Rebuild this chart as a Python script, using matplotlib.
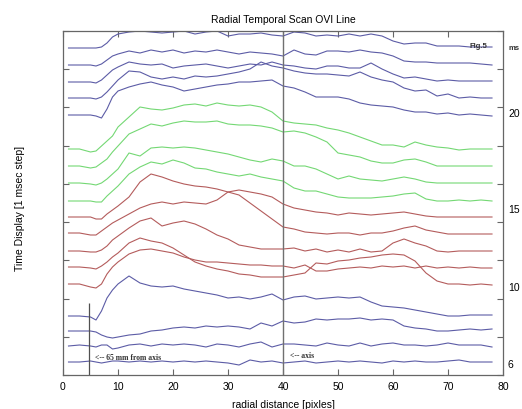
import matplotlib
matplotlib.use("Agg")
import matplotlib.pyplot as plt

plt.rcParams['font.family'] = ['Liberation Sans', 'DejaVu Sans']

# radial positions (pixels) where the traces were sampled
radial = [1, 3, 5, 6, 7, 8, 9, 10,
          12, 14, 16, 18, 20, 22, 24, 26, 28, 30, 32, 34, 36, 38,
          40, 42, 44, 46, 48, 50, 52, 54, 56, 58, 60, 62, 64, 66, 68, 70, 72, 74, 76, 78]

# === TRACES (signal above own baseline) ===
# late frames, blue, top group
blue_late = [
    [0, 0, 0, 0, 1, 5, 11, 14,
     16, 17, 16, 15, 16, 17, 14, 16, 17, 12, 14, 14, 15, 13,
     12, 16, 15, 12, 13, 12, 14, 12, 14, 12, 7, 4, 5, 5, 2, 2, 2, 1, 1, 1],
    [0, 0, 0, -1, 1, 5, 9, 11,
     14, 12, 15, 13, 15, 12, 14, 13, 15, 13, 11, 13, 12, 11,
     9, 15, 11, 10, 14, 14, 13, 15, 13, 12, 9, 4, 3, 3, 2, 2, 2, 2, 1, 0],
    [0, 0, 0, -1, 2, 7, 12, 15,
     20, 18, 17, 18, 14, 16, 17, 18, 16, 14, 16, 18, 17, 20,
     17, 16, 14, 13, 16, 16, 14, 14, 19, 13, 8, 4, 5, 3, 1, 2, 1, 1, 1, 1],
    [0, 0, 0, -1, 1, 6, 12, 18,
     27, 26, 21, 19, 21, 19, 22, 21, 22, 24, 26, 29, 36, 32,
     30, 27, 25, 24, 24, 23, 22, 26, 21, 18, 16, 10, 7, 8, 2, 4, 0, 1, 0, 0],
    [0, 0, 0, -1, -3, 6, 18, 24,
     28, 31, 33, 30, 28, 24, 26, 28, 30, 31, 33, 33, 34, 35,
     29, 27, 23, 18, 18, 18, 16, 12, 10, 9, 8, 5, 3, 3, 1, 2, 0, 1, 0, -1],
]
green = [
    [0, 0, -3, -2, 3, 8, 13, 22,
     32, 42, 40, 39, 41, 44, 45, 43, 46, 44, 43, 44, 42, 37,
     28, 26, 25, 24, 21, 19, 16, 12, 8, 4, 4, 2, 7, 4, 2, 1, -1, 0, 0, 0],
    [0, 0, -2, -1, 3, 7, 14, 20,
     32, 37, 42, 40, 43, 45, 44, 44, 45, 42, 41, 41, 40, 38,
     34, 35, 33, 29, 24, 13, 11, 9, 5, 3, 3, 6, 7, 4, 0, 0, 0, 0, 0, 0],
    [0, 0, -1, -2, 0, 4, 9, 14,
     30, 27, 35, 36, 35, 36, 35, 33, 31, 29, 26, 23, 21, 24,
     22, 17, 17, 14, 9, 4, 7, 4, 3, 2, 4, 6, 4, 1, 0, 0, 0, 0, 0, 0],
    [0, 0, 0, -1, -1, 5, 10, 15,
     27, 34, 39, 37, 41, 38, 33, 32, 29, 27, 25, 27, 24, 22,
     20, 13, 10, 10, 7, 4, 3, 3, 3, 4, 5, 7, 8, 2, 0, 0, 1, 0, 1, 0],
]
red = [
    [0, 0, 0, -2, -2, 3, 7, 11,
     20, 35, 43, 40, 36, 33, 31, 30, 28, 25, 27, 25, 23, 20,
     13, 9, 7, 5, 4, 2, 4, 3, 2, 3, 4, 5, 3, 1, 0, 0, 0, 0, 0, 0],
    [0, 0, -2, -2, 2, 6, 10, 13,
     19, 25, 29, 31, 29, 31, 30, 29, 33, 41, 38, 30, 22, 14,
     6, 4, 1, 0, -1, 0, 0, -2, 0, 0, 2, 5, 7, 3, 1, -1, -1, -1, -1, -1],
    [0, 0, -1, -1, 1, 5, 11, 15,
     23, 30, 33, 25, 28, 30, 27, 22, 16, 12, 6, 4, 2, 2,
     2, 3, 0, 2, -1, 1, -1, 2, -1, 0, 8, 12, 8, 5, 0, -1, 0, 0, 0, 0],
    [0, 0, -1, -2, 1, 5, 10, 14,
     24, 29, 26, 24, 19, 12, 5, 1, -2, -4, -7, -8, -10, -10,
     -10, -8, -6, 4, 3, 6, 7, 9, 10, 12, 13, 12, 6, -6, -14, -17, -17, -18, -17, -18],
    [0, 0, -3, -4, 0, 10, 17, 22,
     30, 34, 35, 33, 31, 27, 24, 22, 22, 21, 20, 19, 19, 18,
     18, 16, 19, 13, 13, 15, 16, 17, 16, 18, 17, 18, 16, 18, 16, 17, 16, 17, 16, 16],
]
# early frames, blue, bottom group
blue_early = [
    [0, 0, -1, -4, 5, 18, 26, 32,
     40, 33, 30, 29, 30, 27, 25, 23, 21, 18, 19, 17, 19, 22,
     16, 19, 20, 17, 18, 19, 18, 19, 14, 10, 9, 8, 6, 4, 2, 0, 0, 1, 1, 1],
    [0, 0, 0, -1, -4, -6, -7, -6,
     -4, -3, 0, 1, 3, 4, 3, 5, 4, 5, 4, 2, 8, 5,
     10, 8, 9, 12, 11, 12, 12, 13, 11, 12, 11, 5, 3, 2, 0, 0, 1, 2, 1, 2],
    [0, 1, 0, -1, 1, 1, -3, -2,
     1, 2, 0, 2, 1, 2, 1, -1, 2, 1, -1, 2, 4, -1,
     2, 2, 1, 0, 3, 1, 0, 3, 0, 2, 3, 1, 1, 0, 1, 3, 1, 1, 1, -1],
    [0, 0, 1, 0, -1, 0, 1, 1,
     0, 1, 0, 1, 0, 1, 0, 1, 0, -1, -3, 2, 0, 1,
     -1, 0, 1, -1, 0, 1, 0, 1, 0, -1, 1, 0, 1, 0, 0, 1, 2, 0, 0, 0],
]

# baseline of every trace on the stacked display
base_blue_late = [327, 310, 293, 277, 260]
base_green = [226, 209, 192, 174]
base_red = [158, 142, 124, 108, 91]
base_blue_early = [59, 44, 29, 13]

groups = [
    (blue_late, base_blue_late, '#5c5ca6'),
    (green, base_green, '#74d874'),
    (red, base_red, '#b45c5c'),
    (blue_early, base_blue_early, '#5c5ca6'),
]

# === FIGURE ===
W, H = 522, 410
fig = plt.figure(figsize=(W / 100, H / 100), dpi=100)
ax = fig.add_axes([63 / W, 34 / H, 440 / W, 344 / H])

for traces, bases, col in groups:
    for prof, b in zip(traces, bases):
        ax.plot(radial, [b + v for v in prof], color=col, lw=0.8)

ax.axvline(40, color='#707070', lw=1.0)
ax.vlines(4.8, 0, 72, color='#505050', lw=0.9)

ax.set_xlim(0, 80)
ax.set_ylim(0, 344)
ax.set_xticks(range(0, 81, 10))
ax.set_yticks([344 * k / 9 for k in range(10)])
ax.set_yticklabels([])
ax.tick_params(direction='in', length=4, color='#666666', top=True, right=True,
               labelsize=7.5, pad=4)
for s in ax.spines.values():
    s.set_color('#666666')
    s.set_linewidth(0.9)

ax.text(5.8, 18, '<-- 65 mm from axis', family='Liberation Serif', fontsize=5.5,
        fontweight='bold', color='#333333', va='center')
ax.text(41.3, 20, '<-- axis', family='Liberation Serif', fontsize=5.5,
        fontweight='bold', color='#333333', va='center')

fig.text(283 / W, 1 - 20 / H, 'Radial Temporal Scan OVI Line', ha='center', va='center',
         fontsize=7.5)
fig.text(283 / W, 1 - 405 / H, 'radial distance [pixles]', ha='center', va='center',
         fontsize=7.5)
fig.text(20 / W, 1 - 208 / H, 'Time Display [1 msec step]', ha='center', va='center',
         rotation=90, fontsize=7.5)

fig.text(478 / W, 1 - 47 / H, 'Fig.5', ha='center', va='center', fontsize=5.5,
         fontweight='bold', color='#333333')
fig.text(514 / W, 1 - 48 / H, 'ms', ha='center', va='center', fontsize=5.5,
         fontweight='bold', color='#333333')
for lab, yp in [('20', 114), ('15', 210), ('10', 288), ('6', 365)]:
    fig.text(508 / W, 1 - yp / H, lab, ha='left', va='center', fontsize=7.5)

fig.savefig('out.png', dpi=100)
